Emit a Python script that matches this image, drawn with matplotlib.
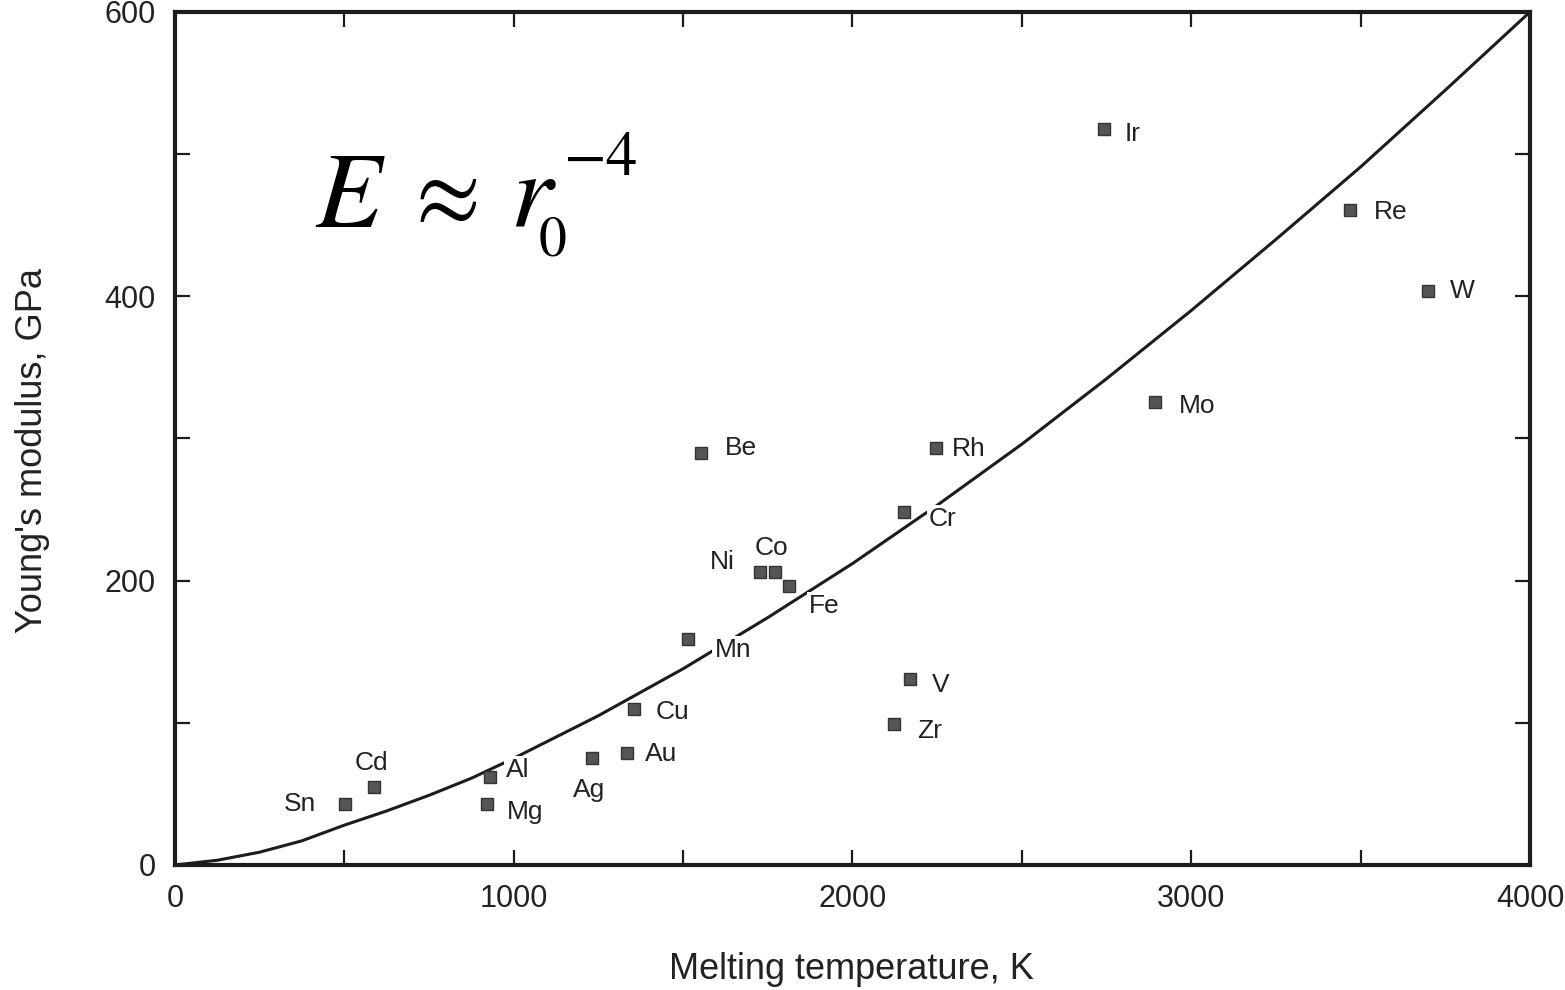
import matplotlib.pyplot as plt
from matplotlib.ticker import MultipleLocator

plt.rcParams['font.family'] = ['Liberation Sans', 'DejaVu Sans']
plt.rcParams['mathtext.fontset'] = 'stix'

# metals: melting temperature (K) and Young's modulus (GPa)
elements = ['Sn', 'Cd', 'Mg', 'Al', 'Ag', 'Au', 'Cu', 'Mn', 'Be', 'Ni',
            'Co', 'Fe', 'Cr', 'Rh', 'Zr', 'V', 'Mo', 'Re', 'W', 'Ir']
melt_T = [502, 587, 921, 930, 1231, 1334, 1355, 1514, 1553, 1727,
          1771, 1813, 2152, 2246, 2122, 2170, 2893, 3469, 3699, 2742]
modulus = [43, 55, 43, 62, 75, 79, 110, 159, 290, 206,
           206, 196, 248, 293, 99, 131, 326, 461, 404, 518]

# trend curve
curve_T = [0, 125, 250, 375, 500, 625, 750, 875, 1000, 1250, 1500, 1750,
           2000, 2250, 2500, 2750, 3000, 3250, 3500, 3750, 4000]
curve_E = [0, 3.3, 9, 17, 28, 38, 49, 61, 75, 105, 138, 174,
           212, 253, 296, 342, 390, 440, 491, 545, 600]

# label offsets in pixels from each marker (dx, dy)
label_offset = {
    'Sn': (-45, 0), 'Cd': (-2, 24), 'Mg': (38, -8), 'Al': (28, 7),
    'Ag': (-3, -32), 'Au': (34, -1), 'Cu': (39, -3), 'Mn': (45, -11),
    'Be': (40, 5), 'Ni': (-38, 10), 'Co': (-3, 24), 'Fe': (35, -20),
    'Cr': (39, -7), 'Rh': (33, -1), 'Zr': (36, -7), 'V': (31, -6),
    'Mo': (42, -4), 'Re': (41, -2), 'W': (34, 0), 'Ir': (29, -5),
}

ink = '#1c1c1c'
W, H = 1565, 990

fig = plt.figure(figsize=(W / 100, H / 100), dpi=100)
ax = fig.add_axes([0.1118, 0.1263, 0.8658, 0.8616])

ax.plot(curve_T, curve_E, color=ink, lw=2.2, zorder=2)
ax.plot(melt_T, modulus, 's', ms=9, color='#555555', mec='#333333',
        mew=1, zorder=4)

for name, t, e in zip(elements, melt_T, modulus):
    dx, dy = label_offset[name]
    ax.annotate(name, (t, e), xytext=(dx, dy), textcoords='offset pixels',
                ha='center', va='center', fontsize=19, color='#222222',
                bbox=dict(boxstyle='square,pad=0.08', fc='white', ec='none'),
                zorder=3)

# E ~ r0^-4, set piece by piece (pixel positions from the top-left)
formula = [(r'$E$', 315, 227, 78), (r'$\approx$', 402, 222, 68),
           (r'$r$', 510, 227, 78), (r'$0$', 538, 255, 40),
           (r'$-4$', 563, 175, 45)]
for s, px, py, fs in formula:
    fig.text(px / W, 1 - py / H, s, fontsize=fs, ha='left', va='baseline',
             color='black')

ax.set_xlim(0, 4000)
ax.set_ylim(0, 600)
ax.xaxis.set_major_locator(MultipleLocator(1000))
ax.xaxis.set_minor_locator(MultipleLocator(500))
ax.yaxis.set_major_locator(MultipleLocator(200))
ax.yaxis.set_minor_locator(MultipleLocator(100))
ax.tick_params(which='both', direction='in', top=True, right=True,
               length=11, width=1.6, color=ink)
ax.tick_params(which='major', labelsize=22, pad=14, labelcolor='#222222')

for s in ax.spines.values():
    s.set_linewidth(3)
    s.set_color(ink)

ax.set_xlabel('Melting temperature, K', fontsize=26, color='#222222')
ax.set_ylabel("Young's modulus, GPa", fontsize=26, color='#222222')
ax.xaxis.set_label_coords(0.4996, -0.102)
ax.yaxis.set_label_coords(-0.092, 0.486)

fig.savefig('out.png', dpi=100)
